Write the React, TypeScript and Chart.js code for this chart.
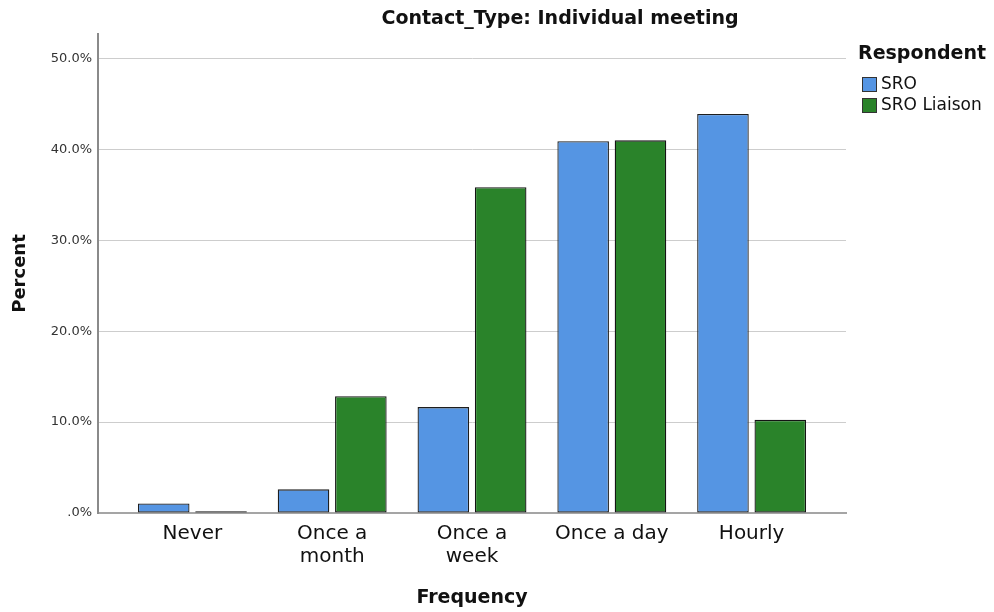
import React, { useEffect, useRef } from "react";
import { Chart, registerables } from "chart.js";

Chart.register(...registerables);

const categories: string[][] = [["Never"], ["Once a", "month"], ["Once a", "week"], ["Once a day"], ["Hourly"]];
const sroValues = [1.05, 2.6, 11.65, 40.9, 43.9];
const liaisonValues = [0.2, 12.85, 35.85, 41.0, 10.25];
const seriesNames = ["SRO", "SRO Liaison"];
const seriesColors = ["#5595e3", "#2a832a"];
const yTicks = [0, 10, 20, 30, 40, 50];
const chartTitle = "Contact_Type: Individual meeting";
const legendTitle = "Respondent";

const FONT = "'DejaVu Sans', Verdana, sans-serif";

const legendPlugin = {
  id: "customLegend",
  afterDraw(chart: any) {
    const ctx = chart.ctx;
    ctx.save();
    ctx.textBaseline = "middle";
    ctx.textAlign = "left";
    ctx.fillStyle = "#111";
    ctx.font = `bold 19px ${FONT}`;
    ctx.fillText(legendTitle, 858, 54);
    ctx.font = `17px ${FONT}`;
    seriesNames.forEach((name, i) => {
      const y = 77 + i * 21;
      ctx.fillStyle = seriesColors[i];
      ctx.fillRect(862, y, 14, 14);
      ctx.strokeStyle = "#333";
      ctx.lineWidth = 1;
      ctx.strokeRect(862.5, y + 0.5, 14, 14);
      ctx.fillStyle = "#111";
      ctx.fillText(name, 881, y + 8);
    });
    ctx.restore();
  },
};

export default function App() {
  const ref = useRef<HTMLCanvasElement>(null);
  useEffect(() => {
    if (!ref.current) return;
    const chart = new Chart(ref.current, {
      type: "bar",
      data: {
        datasets: [
          {
            label: seriesNames[0],
            data: sroValues.map((v, i) => ({ x: i, y: v })),
            backgroundColor: seriesColors[0],
            borderColor: "#1e1e1e",
            borderWidth: 1.3,
            borderSkipped: false,
          },
          {
            label: seriesNames[1],
            data: liaisonValues.map((v, i) => ({ x: i, y: v })),
            backgroundColor: seriesColors[1],
            borderColor: "#141414",
            borderWidth: 1.3,
            borderSkipped: false,
          },
        ],
      },
      options: {
        animation: false,
        responsive: false,
        events: [],
        categoryPercentage: 0.82,
        barPercentage: 0.9,
        layout: { padding: { top: 34, right: 148, left: 0, bottom: 0 } },
        plugins: {
          legend: { display: false },
          title: { display: false },
          tooltip: { enabled: false },
        },
        scales: {
          x: {
            type: "linear",
            offset: false,
            min: -0.675,
            max: 4.675,
            afterBuildTicks: (scale: any) => {
              scale.ticks = categories.map((_, i) => ({ value: i }));
            },
            afterFit: (scale: any) => {
              scale.height = 99;
            },
            grid: { display: false, drawTicks: false },
            border: { display: true, color: "#a5a5a5", width: 2 },
            ticks: {
              autoSkip: false,
              maxRotation: 0,
              padding: 10,
              color: "#111",
              font: { family: FONT, size: 20, lineHeight: 1.12 },
              callback: (v: any) => categories[v] ?? "",
            },
            title: {
              display: true,
              text: "Frequency",
              color: "#111",
              font: { family: FONT, size: 19, weight: "bold" },
              padding: { top: 0, bottom: 3 },
            },
          },
          y: {
            min: 0,
            max: 52.7,
            afterBuildTicks: (scale: any) => {
              scale.ticks = yTicks.map((v) => ({ value: v }));
            },
            afterFit: (scale: any) => {
              scale.width = 98;
            },
            grid: { color: "#cdcdcd", lineWidth: 1, drawTicks: false },
            border: { display: true, color: "#8a8a8a", width: 2 },
            ticks: {
              padding: 6,
              color: "#333",
              font: { family: FONT, size: 13 },
              callback: (v: any) => (v === 0 ? ".0%" : Number(v).toFixed(1) + "%"),
            },
            title: {
              display: true,
              text: "Percent",
              color: "#111",
              font: { family: FONT, size: 18, weight: "bold" },
              padding: { top: 10, bottom: 0 },
            },
          },
        },
      },
      plugins: [legendPlugin],
    } as any);
    return () => chart.destroy();
  }, []);

  return (
    <div style={{ position: "absolute", left: 0, top: 0, width: 994, height: 612, background: "#fff" }}>
      <canvas ref={ref} width={994} height={612} style={{ position: "absolute", left: 0, top: 0, display: "block" }} />
      <div
        style={{
          position: "absolute",
          left: 560,
          top: 6,
          transform: "translateX(-50%)",
          whiteSpace: "nowrap",
          fontFamily: FONT,
          fontWeight: "bold",
          fontSize: 19,
          lineHeight: "22px",
          color: "#111",
        }}
      >
        {chartTitle}
      </div>
    </div>
  );
}
